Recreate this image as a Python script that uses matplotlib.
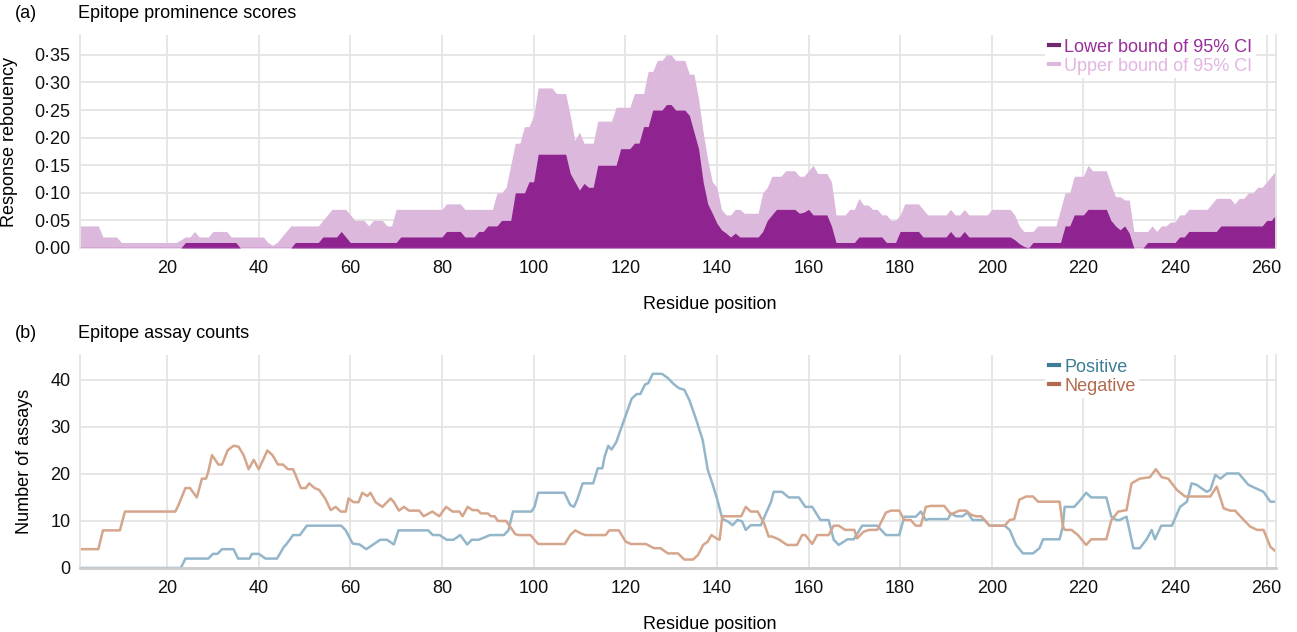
import matplotlib.pyplot as plt
from matplotlib.lines import Line2D
import numpy as np

plt.rcParams['font.family'] = ['Liberation Sans', 'DejaVu Sans']

# (a) epitope prominence scores, one value per residue 1..262
residues = np.arange(1, 263)
lower_ci = [
    0, 0, 0, 0, 0, 0, 0, 0, 0, 0,
    0, 0, 0, 0, 0, 0, 0, 0, 0, 0,
    0, 0, 0, .01, .01, .01, .01, .01, .01, .01,
    .01, .01, .01, .01, .01, 0, 0, 0, 0, 0,
    0, 0, 0, 0, 0, 0, 0, .01, .01, .01,
    .01, .01, .01, .02, .02, .02, .02, .03, .02, .01,
    .01, .01, .01, .01, .01, .01, .01, .01, .01, .01,
    .02, .02, .02, .02, .02, .02, .02, .02, .02, .02,
    .03, .03, .03, .03, .02, .02, .02, .03, .03, .04,
    .04, .04, .05, .05, .05, .10, .10, .10, .12, .12,
    .17, .17, .17, .17, .17, .17, .17, .135, .12, .105,
    .117, .11, .11, .15, .15, .15, .15, .15, .18, .18,
    .18, .19, .19, .22, .22, .25, .25, .25, .26, .26,
    .25, .25, .25, .24, .21, .18, .12, .08, .063, .045,
    .033, .027, .02, .027, .02, .02, .02, .02, .02, .03,
    .05, .06, .07, .07, .07, .07, .07, .063, .065, .07,
    .06, .06, .06, .06, .04, .01, .01, .01, .01, .01,
    .02, .02, .02, .02, .02, .02, .01, .01, .01, .03,
    .03, .03, .03, .03, .02, .02, .02, .02, .02, .02,
    .03, .02, .02, .03, .02, .02, .02, .02, .02, .02,
    .02, .02, .02, .02, .015, .008, .003, 0, .01, .01,
    .01, .01, .01, .01, .01, .04, .04, .06, .06, .06,
    .07, .07, .07, .07, .07, .05, .04, .033, .04, .027,
    0, 0, 0, .01, .01, .01, .01, .01, .01, .01,
    .02, .02, .03, .03, .03, .03, .03, .03, .03, .04,
    .04, .04, .04, .04, .04, .04, .04, .04, .04, .05,
    .05, .06,
]
upper_ci = [
    .04, .04, .04, .04, .04, .02, .02, .02, .02, .01,
    .01, .01, .01, .01, .01, .01, .01, .01, .01, .01,
    .01, .01, .015, .02, .02, .03, .02, .02, .02, .03,
    .03, .03, .03, .02, .02, .02, .02, .02, .02, .02,
    .02, .01, .005, .01, .02, .03, .04, .04, .04, .04,
    .04, .04, .04, .05, .06, .07, .07, .07, .07, .06,
    .05, .05, .05, .04, .05, .05, .05, .04, .04, .07,
    .07, .07, .07, .07, .07, .07, .07, .07, .07, .07,
    .08, .08, .08, .08, .07, .07, .07, .07, .07, .07,
    .07, .10, .10, .11, .15, .19, .19, .22, .22, .24,
    .29, .29, .29, .29, .28, .28, .28, .24, .195, .21,
    .19, .19, .19, .23, .23, .23, .23, .255, .255, .255,
    .255, .28, .28, .28, .32, .32, .34, .34, .35, .35,
    .34, .34, .34, .315, .315, .27, .21, .16, .12, .11,
    .07, .06, .06, .07, .07, .063, .063, .063, .063, .10,
    .11, .13, .13, .13, .14, .14, .14, .13, .13, .14,
    .15, .135, .135, .135, .12, .06, .06, .06, .07, .07,
    .09, .078, .078, .07, .07, .06, .06, .05, .05, .06,
    .08, .08, .08, .08, .07, .06, .06, .06, .06, .06,
    .07, .06, .06, .07, .06, .06, .06, .06, .06, .07,
    .07, .07, .07, .07, .06, .04, .03, .03, .03, .04,
    .04, .04, .04, .04, .07, .10, .10, .13, .13, .13,
    .15, .14, .14, .14, .14, .115, .093, .093, .087, .087,
    .03, .03, .03, .03, .04, .03, .04, .04, .047, .047,
    .06, .06, .07, .07, .07, .07, .07, .08, .09, .09,
    .09, .09, .08, .09, .09, .10, .10, .11, .11, .12,
    .13, .14,
]

# (b) epitope assay counts, read as (residue, count) vertices
pos_x = [1, 23, 24, 29, 30, 31, 32, 34.5, 35.5, 38, 38.5, 40, 41.5, 44, 45.5, 46, 47.5, 49, 50.5, 58,
         59, 60.5, 62, 63.5, 65, 66.5, 68, 69.5, 70.5, 77, 78, 79.5, 81, 82.5, 84, 85.5, 86.5, 88, 90.5, 93.5,
         94.5, 95.5, 99.5, 100.2, 101, 106.7, 108, 108.8, 109.5, 110.7, 113, 114, 115, 115.5, 116.3, 117, 118, 119.2, 120.3, 121.4,
         122.5, 123.3, 124.3, 125, 126, 128, 129.3, 130.7, 131.8, 132.9, 134, 135.5, 136.9, 138, 139.1, 140.1, 141.2, 142.4, 143.4, 144.5,
         145.5, 146.3, 147.4, 149.6, 150.7, 151.8, 152.4, 154.2, 155.7, 157.9, 159.3, 160.8, 162.6, 164.4, 165.5, 166.6, 168.5, 169.9, 171.7, 175,
         176.9, 179.8, 180.9, 183.4, 184.5, 185.6, 186.3, 190.4, 191.1, 192.2, 193.6, 194.7, 195.8, 198.4, 199.5, 202.8, 203.9, 205.3, 206.8, 209,
         210.4, 211.2, 214.8, 215.5, 215.9, 218, 219.2, 220.6, 221.7, 225, 226.1, 227.2, 227.9, 229.4, 230.9, 232.3, 233.8, 234.9, 235.6, 237,
         239.3, 241.1, 242.6, 243.6, 244.7, 246.9, 247.7, 248.8, 249.9, 251.3, 253.9, 256, 257.5, 259.3, 260.8, 262]
pos_y = [0, 0, 2, 2, 3, 3, 4, 4, 2, 2, 3, 3, 2, 2, 4.5, 5, 7, 7, 9, 9,
         8, 5.2, 5, 4, 5, 6, 6, 5, 8, 8, 7, 7, 6, 6, 7, 5, 6, 6, 7, 7,
         8, 12, 12, 13, 16, 16, 13.4, 13, 14.5, 18, 18, 21.2, 21.2, 23.7, 26, 25.2, 26.7, 30, 33, 36,
         37, 37, 39, 39.3, 41.3, 41.3, 40.4, 39, 38.2, 37.9, 35.7, 31.5, 27.2, 20.9, 17.7, 14.5, 10.4, 9.9, 9.1, 10.2,
         9.9, 8.1, 9.1, 9.1, 11.6, 14, 16.2, 16.2, 15, 15, 13, 13, 10.2, 10.2, 6, 4.9, 6.1, 6.1, 9, 9,
         7, 7, 10.9, 10.9, 12, 10.2, 10.4, 10.4, 11.6, 11, 11, 11.8, 10.2, 10.2, 9, 9, 8.1, 4.9, 3.1, 3.1,
         4.2, 6.1, 6.1, 8.8, 13, 13, 14.3, 16, 15, 15, 10.9, 10.2, 10.2, 10.9, 4.2, 4.2, 6.1, 8.1, 6.1, 9,
         9, 13, 14.1, 18, 17.7, 16.2, 16.6, 19.8, 19, 20.1, 20.1, 17.7, 17, 16.2, 14.1, 14.1]
neg_x = [1, 5, 6, 9.7, 10.8, 21.8, 22.5, 24, 25, 26.5, 27.6, 28.5, 29, 29.8, 31.2, 32, 33.2, 34.5, 35.6, 36.7,
         37.8, 38.9, 40, 41.9, 43, 44.2, 45.3, 46.4, 47.5, 48.2, 49.2, 50.3, 51, 52.2, 53.2, 54.5, 55.7, 56.8, 57.9, 59,
         59.6, 60.7, 61.8, 62.6, 63.7, 64.4, 65.5, 67, 68.8, 69.5, 70.6, 71.7, 72.8, 75, 76, 77.9, 79.4, 80.9, 82.3, 83.8,
         84.5, 85.6, 86.7, 87.8, 88.5, 90, 90.7, 91.5, 92.2, 94, 96, 96.7, 99.3, 101, 106.8, 108, 109.1, 110.2, 111.3, 115.7,
         116.5, 118.6, 120.1, 121.2, 124.5, 126.3, 127.7, 129.3, 131.5, 132.9, 134.8, 135.9, 137, 138, 138.8, 139.9, 140.6, 141.2, 145.3, 146.3,
         147.4, 148.9, 150.3, 151.3, 152, 153.5, 155.3, 157.5, 158.6, 159.3, 160.8, 161.9, 164.4, 165.5, 166.6, 168, 170, 170.6, 172, 173.2,
         175, 176.9, 178, 179.8, 180.9, 182.3, 183.4, 184.5, 185.6, 186.7, 189.6, 191.1, 192.9, 194.4, 195.5, 196.6, 197.7, 199.5, 202.8, 203.9,
         204.9, 206, 207.5, 209, 210.1, 214.8, 215.5, 215.9, 217.4, 218.8, 220.6, 221.7, 225, 226.1, 227.6, 229.4, 230.5, 232.3, 234.5, 235.8,
         237.1, 238.5, 240.4, 242.2, 247.7, 249.1, 250.6, 252, 253.1, 255, 256.4, 257.9, 259.3, 260.8, 262]
neg_y = [4, 4, 8, 8, 12, 12, 13.4, 17, 17, 15, 19, 19, 20.5, 24, 22, 22, 25, 26, 25.8, 24,
         21, 23, 21, 25, 24, 22, 22, 21, 21, 19.4, 17, 17, 18, 17, 16.6, 14.8, 12.3, 13, 12, 12,
         14.8, 14, 14, 16, 15.3, 16, 14, 13, 14.8, 14, 12.2, 13, 12.2, 12.2, 11, 12, 11, 13, 12, 12,
         11, 13, 12.3, 12.3, 11.6, 11.6, 11, 11, 10, 10, 7.2, 7, 7, 5.1, 5.1, 7, 8, 7.4, 7, 7,
         8, 8, 5.6, 5.1, 5.1, 4.2, 4.2, 3.1, 3.1, 1.8, 1.8, 2.8, 4.9, 5.6, 7, 6.3, 6, 11, 11, 13,
         12, 12, 9.5, 6.7, 6.7, 6.1, 4.9, 4.9, 7, 7, 5.1, 7, 7, 9, 9, 8.1, 8.1, 6.3, 7.7, 8.1,
         8.1, 11.8, 12.2, 12.2, 10.2, 10.2, 9, 9, 13, 13.2, 13.2, 11.4, 12.2, 12.2, 11.3, 11, 11, 9, 9, 10.2,
         10.4, 14.5, 15.2, 15.2, 14.1, 14.1, 9, 8.1, 8.1, 7, 4.9, 6.1, 6.1, 10.2, 12, 12.3, 18, 19, 19.3, 21,
         19.3, 19, 16.6, 15.2, 15.2, 17.3, 12.7, 12.2, 12.2, 10.2, 8.8, 8.1, 8.1, 4.5, 3.5]

x_ticks = [20, 40, 60, 80, 100, 120, 140, 160, 180, 200, 220, 240, 260]

dark_purple = '#8f2490'
light_purple = '#dcb9dc'
pos_line, pos_text = '#93b6ca', '#3d7d98'
neg_line, neg_text = '#d5a58c', '#b26a4c'
grid_c = '#e4e4e4'

fig = plt.figure(figsize=(12.97, 6.32), dpi=100)
ax1 = fig.add_axes([0.0617, 0.6076, 0.922, 0.337])
ax2 = fig.add_axes([0.0617, 0.1013, 0.922, 0.337])

legend_kw = dict(loc='upper left', bbox_to_anchor=(0.807, 1.0), fontsize=13,
                 handlelength=0.55, handletextpad=0.3, labelspacing=0.12,
                 borderpad=0.2, borderaxespad=0.0, fancybox=False,
                 framealpha=1, facecolor='white', edgecolor='none')

# top panel
ax1.fill_between(residues, 0, upper_ci, color=light_purple, lw=0)
ax1.fill_between(residues, 0, lower_ci, color=dark_purple, lw=0)
ax1.axhline(0, color='#b05ab0', lw=1)
ax1.set_ylim(0, 0.386)
ax1.set_yticks(np.arange(0, 0.36, 0.05))
ax1.set_yticklabels([f'{v:.2f}'.replace('.', '\u00b7') for v in np.arange(0, 0.36, 0.05)])
ax1.set_ylabel('Response rebouency', fontsize=13)
ax1.yaxis.set_label_coords(-0.052, 0.5)
h1 = [Line2D([], [], color='#6e2a6e', lw=3), Line2D([], [], color=light_purple, lw=3)]
ax1.legend(h1, ['Lower bound of 95% CI', 'Upper bound of 95% CI'],
           labelcolor=['#9a2c9a', '#e2b5e2'], **legend_kw)

# bottom panel
ax2.plot(pos_x, pos_y, color=pos_line, lw=1.8)
ax2.plot(neg_x, neg_y, color=neg_line, lw=1.8)
ax2.set_ylim(0, 45.3)
ax2.set_yticks([0, 10, 20, 30, 40])
ax2.set_ylabel('Number of assays', fontsize=13)
ax2.yaxis.set_label_coords(-0.039, 0.5)
h2 = [Line2D([], [], color=pos_text, lw=3), Line2D([], [], color=neg_text, lw=3)]
ax2.legend(h2, ['Positive', 'Negative'], labelcolor=[pos_text, neg_text], **legend_kw)

for ax in (ax1, ax2):
    ax.set_xlim(1, 262)
    ax.set_xticks(x_ticks)
    ax.set_axisbelow(True)
    ax.grid(True, color=grid_c, lw=1.3)
    ax.tick_params(length=0, labelsize=13, colors='#111111')
    ax.tick_params(axis='x', pad=9)
    ax.tick_params(axis='y', pad=7)
    ax.spines['top'].set_visible(False)
    ax.spines['left'].set_color(grid_c)
    ax.spines['left'].set_linewidth(1.3)
    ax.spines['right'].set_color(grid_c)
    ax.spines['right'].set_linewidth(1.3)
    ax.set_xlabel('Residue position', fontsize=13)
    ax.xaxis.set_label_coords(0.527, -0.225)

ax1.spines['bottom'].set_visible(False)
ax2.spines['bottom'].set_color('#cccccc')
ax2.spines['bottom'].set_linewidth(2)

fig.text(15 / 1297, 1 - 14 / 632, '(a)', fontsize=13, va='center')
fig.text(78 / 1297, 1 - 14 / 632, 'Epitope prominence scores', fontsize=13, va='center')
fig.text(15 / 1297, 1 - 333 / 632, '(b)', fontsize=13, va='center')
fig.text(78 / 1297, 1 - 333 / 632, 'Epitope assay counts', fontsize=13, va='center')

fig.savefig('out.png', dpi=100)
